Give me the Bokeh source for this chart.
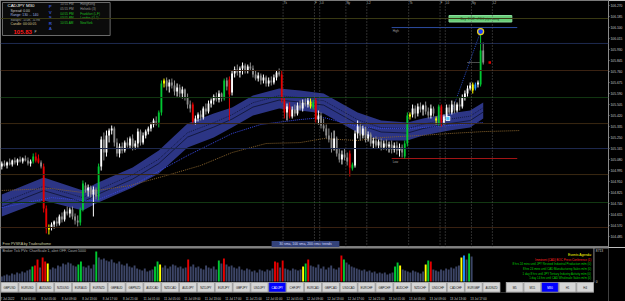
from bokeh.plotting import figure
from bokeh.models import Range1d, FixedTicker, NumeralTickFormatter, Label, Span
from bokeh.layouts import column
from bokeh.embed import file_html
from bokeh.resources import INLINE
from bokeh.core.properties import value

symbol = "CADJPY"
timeframe = "M30"
last_price = 105.830

opens = [105.026,105.049,105.034,105.057,105.042,105.073,105.057,105.080,105.065,105.088,105.073,105.049,105.065,105.103,105.088,105.057,105.026,104.702,104.539,104.555,
104.578,104.601,104.586,104.640,104.617,104.679,104.663,104.694,104.640,104.609,104.594,104.694,104.879,104.841,104.864,104.810,104.848,104.794,105.026,105.235,
105.134,105.266,105.304,105.320,105.212,105.127,105.181,105.150,105.212,105.188,105.243,105.181,105.204,105.297,105.212,105.266,105.297,105.320,105.351,105.374,
105.366,105.444,105.668,105.691,105.644,105.675,105.652,105.606,105.637,105.590,105.621,105.559,105.505,105.505,105.374,105.397,105.428,105.405,105.474,105.451,
105.513,105.536,105.567,105.544,105.590,105.552,105.691,105.699,105.598,105.745,105.776,105.753,105.784,105.807,105.768,105.799,105.784,105.737,105.706,105.729,
105.691,105.714,105.668,105.691,105.675,105.714,105.753,105.737,105.544,105.444,105.490,105.413,105.467,105.436,105.498,105.474,105.521,105.505,105.490,105.482,
105.536,105.389,105.420,105.343,105.320,105.266,105.235,105.165,105.243,105.127,105.080,105.119,105.096,105.127,105.011,105.034,105.281,105.335,105.266,105.320,
105.243,105.274,105.204,105.227,105.188,105.219,105.173,105.204,105.181,105.196,105.158,105.188,105.150,105.173,105.103,105.204,105.413,105.428,105.474,105.436,
105.490,105.467,105.498,105.451,105.420,105.474,105.382,105.359,105.490,105.366,105.413,105.482,105.444,105.505,105.459,105.505,105.490,105.559,105.590,105.629,
105.614,105.629,105.660,105.660,105.923]
highs = [105.065,105.073,105.065,105.088,105.080,105.096,105.088,105.103,105.096,105.111,105.096,105.080,105.127,105.134,105.119,105.073,105.049,104.725,104.578,104.594,
104.609,104.632,104.655,104.671,104.694,104.717,104.709,104.717,104.663,104.648,104.709,104.918,104.903,104.887,104.879,104.872,104.864,105.049,105.258,105.289,
105.304,105.320,105.343,105.335,105.243,105.204,105.212,105.227,105.250,105.258,105.274,105.227,105.320,105.312,105.289,105.312,105.335,105.366,105.397,105.413,
105.459,105.691,105.706,105.714,105.699,105.706,105.691,105.668,105.660,105.644,105.629,105.590,105.536,105.521,105.420,105.444,105.459,105.490,105.513,105.536,
105.552,105.583,105.598,105.614,105.598,105.706,105.714,105.722,105.768,105.799,105.814,105.799,105.830,105.822,105.814,105.830,105.807,105.768,105.753,105.745,
105.737,105.729,105.714,105.722,105.737,105.768,105.784,105.768,105.559,105.513,105.521,105.490,105.505,105.521,105.536,105.544,105.552,105.559,105.552,105.544,
105.559,105.459,105.444,105.397,105.351,105.320,105.289,105.304,105.258,105.165,105.150,105.165,105.134,105.150,105.057,105.304,105.382,105.366,105.343,105.335,
105.297,105.289,105.250,105.258,105.235,105.243,105.227,105.235,105.219,105.227,105.212,105.219,105.204,105.196,105.227,105.444,105.444,105.505,105.498,105.513,
105.521,105.505,105.528,105.482,105.505,105.490,105.413,105.505,105.505,105.428,105.505,105.505,105.536,105.528,105.521,105.559,105.583,105.614,105.652,105.675,
105.675,105.675,105.691,106.069,105.984]
lows = [105.003,105.026,105.011,105.034,105.026,105.042,105.034,105.057,105.049,105.065,105.034,105.026,105.049,105.057,105.049,105.011,104.671,104.509,104.501,104.532,
104.547,104.563,104.570,104.594,104.601,104.648,104.632,104.617,104.578,104.563,104.570,104.679,104.825,104.794,104.787,104.640,104.771,104.764,104.995,105.073,
105.103,105.212,105.274,105.181,105.103,105.096,105.127,105.134,105.173,105.165,105.150,105.158,105.173,105.188,105.196,105.243,105.274,105.297,105.328,105.343,
105.328,105.420,105.637,105.614,105.598,105.629,105.575,105.567,105.559,105.552,105.536,105.474,105.444,105.351,105.351,105.374,105.382,105.389,105.428,105.436,
105.482,105.505,105.528,105.521,105.528,105.536,105.614,105.382,105.575,105.714,105.729,105.714,105.737,105.745,105.745,105.768,105.714,105.691,105.683,105.660,
105.668,105.644,105.644,105.652,105.660,105.691,105.722,105.521,105.397,105.382,105.397,105.397,105.413,105.420,105.459,105.451,105.490,105.482,105.474,105.467,
105.366,105.351,105.320,105.297,105.243,105.212,105.134,105.150,105.103,105.057,105.042,105.073,105.034,104.949,104.995,105.018,105.243,105.227,105.243,105.212,
105.219,105.181,105.165,105.173,105.165,105.150,105.158,105.150,105.134,105.127,105.134,105.119,105.103,105.096,105.088,105.181,105.389,105.405,105.397,105.413,
105.444,105.420,105.428,105.397,105.397,105.413,105.351,105.343,105.335,105.351,105.382,105.428,105.428,105.436,105.444,105.459,105.474,105.536,105.567,105.614,
105.590,105.614,105.637,105.644,105.814]
closes = [105.049,105.034,105.057,105.042,105.073,105.057,105.080,105.065,105.088,105.073,105.049,105.065,105.103,105.073,105.057,105.026,104.702,104.547,104.555,104.578,
104.601,104.586,104.640,104.617,104.679,104.663,104.694,104.640,104.609,104.594,104.694,104.895,104.841,104.864,104.810,104.848,104.794,105.026,105.235,105.134,
105.266,105.304,105.320,105.212,105.127,105.181,105.150,105.212,105.188,105.243,105.181,105.204,105.297,105.212,105.266,105.297,105.320,105.351,105.382,105.366,
105.444,105.668,105.691,105.644,105.675,105.652,105.606,105.637,105.590,105.621,105.559,105.505,105.474,105.374,105.397,105.428,105.405,105.474,105.451,105.513,
105.536,105.567,105.544,105.590,105.552,105.691,105.644,105.583,105.745,105.776,105.753,105.784,105.807,105.768,105.799,105.784,105.737,105.706,105.729,105.691,
105.714,105.668,105.691,105.675,105.714,105.753,105.737,105.544,105.444,105.490,105.413,105.467,105.436,105.498,105.474,105.521,105.505,105.536,105.528,105.521,
105.389,105.420,105.343,105.320,105.266,105.235,105.165,105.243,105.127,105.080,105.119,105.096,105.065,105.018,105.042,105.281,105.335,105.266,105.320,105.243,
105.274,105.204,105.227,105.188,105.219,105.173,105.204,105.181,105.196,105.158,105.188,105.150,105.173,105.134,105.204,105.420,105.428,105.474,105.436,105.490,
105.467,105.498,105.451,105.420,105.474,105.436,105.397,105.490,105.366,105.413,105.482,105.444,105.505,105.459,105.505,105.490,105.559,105.590,105.629,105.652,
105.660,105.660,105.675,105.923,105.830]
volumes = [1280,1536,1792,1536,2048,1792,2304,2048,2560,2304,2816,3072,3840,4096,5632,3584,6144,5120,4608,3072,
3584,3328,4096,3840,4608,4352,4864,4608,4096,3840,4352,5120,3840,3584,4096,3328,4352,7680,6144,5632,
5888,5376,5120,5632,4864,4608,5120,4352,4096,4608,3840,3584,4096,3328,3072,2816,3328,2560,2816,3072,
3840,5120,4352,3584,4096,3328,3840,4352,4096,3584,3840,3328,3584,5632,3840,4352,3584,3840,3328,3072,
4096,3584,3328,3840,3072,5376,4608,5888,4352,3840,4096,3584,3328,3840,3072,2816,3328,3072,2560,2816,
2304,3072,2816,2560,3072,2816,3328,5120,4864,3584,5376,3328,3072,2816,3328,3072,2816,3072,3840,4608,
5632,4096,3840,3584,4352,3328,3840,3072,3584,4096,3328,3072,3584,6656,5632,4864,4352,3840,3584,3328,
3072,2816,3072,2560,2816,2304,2560,2048,2304,2048,2304,1792,2048,2304,3840,4864,4096,3072,2816,2560,
2304,2816,2560,2304,2048,2560,4352,5376,5120,3072,2816,2560,3072,2816,3328,3072,3584,3328,3840,4096,
6144,6656,5632,7168,6400]
vol_class = list("nnnnnnnnnnnn" "g" "rrnrry" "nnnnnnnnnnn" "gg" "nnnnn" "g"
                 "nnnnnnnnnnnnnnnnnnnnnn" "ggy" "nnnnnnnnnn" "r" "nnnnnnnnnnn" "gnr"
                 "nnnnnnnnnnnnnnnnnnn" "rrnr" "nnnnnnn" "ygr" "nnnnnnnnnnnn" "rg"
                 "nnnnnnnnnnnnnnnnnnn" "ggy" "nnnnnnnnn" "ygr" "nnnnnnnnnnn" "ybngn")

price_ticks = [106.270, 106.185, 106.100, 106.015, 105.930, 105.845, 105.760, 105.675, 105.590, 105.505, 105.420,
               105.335, 105.250, 105.165, 105.080, 104.995, 104.910, 104.825, 104.740, 104.655, 104.570, 104.485]
pivot_levels = [106.170, 105.977, 105.768, 105.559, 105.358, 105.165, 104.964, 104.748, 104.555]

band_x = [0, 16, 31, 36, 50, 60, 71, 81, 88, 96, 106, 114, 123, 136, 145, 155, 161, 171, 179, 184]
band_hi = [104.810, 104.941, 104.841, 104.895, 105.018, 105.150, 105.358, 105.436, 105.482, 105.575,
           105.629, 105.613, 105.590, 105.443, 105.382, 105.366, 105.397, 105.436, 105.459, 105.521]
band_lo = [104.640, 104.763, 104.686, 104.740, 104.864, 104.972, 105.173, 105.250, 105.327, 105.420,
           105.474, 105.459, 105.436, 105.289, 105.227, 105.227, 105.266, 105.304, 105.327, 105.397]
sma100_x = [0, 19, 31, 36, 50, 71, 88, 99, 114, 123, 136, 145, 156, 171, 184]
sma100 = [104.709, 104.786, 104.763, 104.763, 104.879, 105.111, 105.281, 105.351, 105.389, 105.405,
          105.335, 105.320, 105.320, 105.343, 105.366]
ema200_x = [0, 19, 31, 49, 63, 76, 88, 101, 114, 123, 136, 145, 160, 171, 184, 198]
ema200 = [104.841, 104.856, 104.825, 104.879, 104.957, 105.034, 105.134, 105.204, 105.211, 105.242,
          105.227, 105.250, 105.266, 105.281, 105.296, 105.304]

session_bars = [108, 120, 122, 132, 140, 156, 168, 170, 180, 188]
session_names = ["Tk", "F", "L0", "Ny", "L2", "Tk", "F", "L0", "Ny", "L2"]
day_low, day_high = 105.088, 106.100
low_line_bars = [149, 197]
target_bar, target_price = 183, 106.069
signal_bar, signal_price = 171, 105.397

time_bars = [0, 8, 16, 24, 32, 40, 48, 56, 64, 72, 80, 88, 96, 104, 112, 120, 128, 136, 144, 152, 160, 168, 176, 184]
time_labels = ["7 Jul 2022", "8 Jul 01:00", "8 Jul 05:00", "8 Jul 09:00", "8 Jul 13:00", "8 Jul 17:00", "8 Jul 21:00",
               "11 Jul 01:00", "11 Jul 05:00", "11 Jul 09:00", "11 Jul 13:00", "11 Jul 17:00", "11 Jul 21:00",
               "12 Jul 01:00", "12 Jul 05:00", "12 Jul 09:00", "12 Jul 13:00", "12 Jul 17:00", "12 Jul 21:00",
               "13 Jul 01:00", "13 Jul 05:00", "13 Jul 09:00", "13 Jul 13:00", "13 Jul 17:00"]
pairs = ["GBPUSD", "EURUSD", "AUDUSD", "NZDUSD", "EURAUD", "EURNZD", "GBPAUD", "GBPNZD", "AUDCAD", "NZDCAD",
         "AUDJPY", "NZDJPY", "EURJPY", "GBPJPY", "USDJPY", "CADJPY", "CHFJPY", "EURCAD", "GBPCAD", "USDCAD",
         "EURCHF", "GBPCHF", "AUDCHF", "NZDCHF", "USDCHF", "CADCHF", "EURGBP", "AUDNZD"]
timeframes = ["M5", "M15", "M30", "H1", "H4"]
events = ["Events Agenda:",
          "Imminent (CAD) BOC Press Conference  (1)",
          "8 hrs 24 mins until JPY Revised Industrial Production m/m  (0)",
          "8 hrs 24 mins until CAD Manufacturing Sales m/m  (0)",
          "1 day 8 hrs until JPY Tertiary Industry Activity m/m  (0)",
          "1 day 14 hrs until CAD Wholesale Sales m/m  (0)"]
event_colors = ["#ffff00", "#ff2020", "#00d000", "#00d000", "#00d000", "#00d000"]
clocks = [("10:55 PM", "HongKong", "#9a9a9a"), ("05:55 PM", "Helsinki (3)", "#9a9a9a"),
          ("04:55 PM", "Frankfurt (L,F)", "#20c020"), ("03:55 PM", "London (O-1)", "#20c020"),
          ("10:55 AM", "NewYork", "#20c020")]
info_lines = [("Spread: 0.00", "#c8c8c8"), ("Range: 130 ... 140", "#a0b4e0"),
              ("Swaps: -0.08, -0.98", "#a0a0a0"), ("Candle: 00:00:05", "#d8c890")]

# ---------------------------------------------------------------------------
FONT = value("Liberation Sans")
BAR_PX = 2.625
FRAME_W = 610
MAIN_H = 247
SUB_H = 54
PX_PER_PRICE = 1 / 0.0077273
y_top = 106.309
y_bot = y_top - MAIN_H / PX_PER_PRICE

n = len(closes)
idx = list(range(n))
special = {"g": "#00c832", "r": "#e60000", "y": "#ffff00", "b": "#1e90ff"}
cndl_col = []
hist_col = []
for o, c, k in zip(opens, closes, vol_class):
    if k == "n":
        cndl_col.append("#ffffff" if c >= o else "#8c8c8c")
        hist_col.append("#3c4566")
    else:
        cndl_col.append(special[k])
        hist_col.append(special[k])
tops = [max(o, c) for o, c in zip(opens, closes)]
bots = [min(o, c) for o, c in zip(opens, closes)]

p = figure(width=625, height=MAIN_H, output_backend="svg", toolbar_location=None,
           x_range=Range1d(-0.5, -0.5 + FRAME_W / BAR_PX), y_range=Range1d(y_bot, y_top),
           x_axis_location=None, y_axis_location="right",
           min_border_left=0, min_border_right=15, min_border_top=0, min_border_bottom=0,
           background_fill_color="#000000", border_fill_color="#000000")
p.grid.visible = False
p.outline_line_color = "#7a7a7a"
p.extra_x_ranges = {"px": Range1d(0, FRAME_W)}
p.extra_y_ranges = {"px": Range1d(MAIN_H, 0)}

ax = p.yaxis[0]
ax.ticker = FixedTicker(ticks=price_ticks)
ax.formatter = NumeralTickFormatter(format="0.000")
ax.major_label_text_font_size = "3.3px"
ax.major_label_text_font = "Liberation Sans"
ax.major_label_text_color = "#c8c8c8"
ax.axis_line_color = "#8a8a8a"
ax.major_tick_line_color = "#8a8a8a"
ax.major_tick_out = 1
ax.major_tick_in = 0
ax.minor_tick_line_color = None
ax.major_label_standoff = 1

pivot_cols = ["#3a3a14", "#1e2a50", "#3a2212", "#123812", "#3a2812", "#1e2a50", "#3a2812", "#123812", "#3a2212"]
for lv, col in zip(pivot_levels, pivot_cols):
    p.add_layout(Span(location=lv, dimension="width", line_color=col, line_width=1))
for b in session_bars:
    p.add_layout(Span(location=b - 0.5, dimension="height", line_color="#5a5a5a", line_width=1, line_dash="1 2"))

# MA ribbon
p.varea(x=band_x, y1=band_lo, y2=band_hi, fill_color="#2c3585")
mid = [(a + b) / 2 for a, b in zip(band_lo, band_hi)]
p.line(band_x, [m + 0.022 for m in mid], line_color="#141a40", line_width=1, line_dash="1 1")
p.line(band_x, [m - 0.012 for m in mid], line_color="#141a40", line_width=1)
p.line(sma100_x, sma100, line_color="#3848e0", line_width=1, line_dash="1 1")
p.line(ema200_x, ema200, line_color="#86622c", line_width=1, line_dash="1 1")

# high / low lines
p.segment(x0=[low_line_bars[0]], y0=[day_low], x1=[low_line_bars[1]], y1=[day_low], line_color="#a01414", line_width=1)
p.segment(x0=[low_line_bars[0]], y0=[day_high], x1=[low_line_bars[1]], y1=[day_high], line_color="#2c4ca0", line_width=1)
p.text(x=[low_line_bars[0]], y=[day_low], text=["Low"], text_font=FONT, text_font_size="3px",
       text_color="#a0a0a0", text_baseline="top", x_offset=1, y_offset=1)
p.text(x=[low_line_bars[0]], y=[day_high], text=["High"], text_font=FONT, text_font_size="3px",
       text_color="#a0a0a0", text_baseline="top", x_offset=1, y_offset=1)
p.line([signal_bar, target_bar], [signal_price, target_price], line_color="#2848b8", line_width=1, line_dash="1 1")
p.segment(x0=[178], y0=[last_price], x1=[183], y1=[last_price], line_color="#9a9a9a", line_dash="1 1")

# candles
p.segment(x0=idx, y0=lows, x1=idx, y1=highs, line_color=cndl_col, line_width=1)
p.vbar(x=idx, width=0.7, top=tops, bottom=bots, fill_color=cndl_col, line_color=None)

p.scatter(x=[target_bar], y=[target_price], size=6, fill_color="#1a3cff", line_color="#e8d020", line_width=1.3)
p.scatter(x=[signal_bar - 0.5], y=[signal_price], marker="square", size=4, fill_color="#50c8ff", line_color="#ffffff", line_width=0.8)
p.scatter(x=[n + 1.5], y=[last_price], marker="square", size=2.5, fill_color="#e00000", line_color=None)

# target label
p.quad(left=[450], right=[513], top=[15], bottom=[21.5], x_range_name="px", y_range_name="px",
       fill_color="#66cc77", line_color="#88dd99")
p.text(x=[481], y=[18.3], text=["Buy: 3 EZ, +96.0 pips away"], x_range_name="px", y_range_name="px",
       text_font=FONT, text_font_size="3.2px", text_color="#14401c", text_align="center", text_baseline="middle")

# session labels
p.text(x=[b - 0.3 for b in session_bars], y=[106.294] * len(session_bars), text=session_names, text_font=FONT,
       text_font_size="3px", text_color="#b4b4b4", text_baseline="middle")

# info panel
p.quad(left=[2], right=[110], top=[2], bottom=[35], x_range_name="px", y_range_name="px",
       fill_color="#0b0b0b", line_color="#6a6a6a", line_width=1)
p.text(x=[7], y=[5], text=[symbol + "   " + timeframe], x_range_name="px", y_range_name="px",
       text_font=FONT, text_font_size="4.4px", text_color="#ffffff", text_baseline="middle")
for k, (s, col) in enumerate(info_lines):
    p.text(x=[10], y=[10 + 4.6 * k], text=[s], x_range_name="px", y_range_name="px",
           text_font=FONT, text_font_size="3.4px", text_color=col, text_baseline="middle")
p.text(x=[13], y=[31], text=["%.2f" % last_price], x_range_name="px", y_range_name="px",
       text_font=FONT, text_font_size="6px", text_font_style="bold", text_color="#ff1a1a", text_baseline="middle")
p.text(x=[34], y=[31.5], text=["P"], x_range_name="px", y_range_name="px",
       text_font=FONT, text_font_size="3px", text_color="#c8c8c8", text_baseline="middle")
for k, ch in enumerate("PVSRA"):
    p.text(x=[50], y=[6 + 5.6 * k], text=[ch], x_range_name="px", y_range_name="px", text_font=FONT,
           text_font_size="4.4px", text_font_style="bold", text_color="#3454d0", text_align="center", text_baseline="middle")
for k, (t, city, col) in enumerate(clocks):
    p.text(x=[60], y=[3.6 + 4.6 * k], text=[t], x_range_name="px", y_range_name="px", text_font=FONT,
           text_font_size="3.1px", text_color=col, text_baseline="middle")
    p.text(x=[80], y=[3.6 + 4.6 * k], text=[city], x_range_name="px", y_range_name="px", text_font=FONT,
           text_font_size="3.1px", text_color=col, text_baseline="middle")

p.text(x=[2], y=[243.5], text=["Free PVSRA by Traderathome"], x_range_name="px", y_range_name="px",
       text_font=FONT, text_font_size="3.6px", text_color="#d0d0a8", text_baseline="middle")
p.quad(left=[272], right=[340], top=[240.5], bottom=[247], x_range_name="px", y_range_name="px",
       fill_color="#33427a", line_color=None)
p.text(x=[306], y=[243.8], text=["30 sma, 100 sma, 200 ema: trends"], x_range_name="px", y_range_name="px",
       text_font=FONT, text_font_size="3.4px", text_color="#d8dcff", text_align="center", text_baseline="middle")

p.add_layout(Label(x=611, y=last_price, x_units="screen", y_units="data", text="%.3f" % last_price,
                   text_font="Liberation Sans", text_font_size="3.3px", text_color="#000000",
                   text_baseline="middle", background_fill_color="#ffffff"))

# ---------------------------------------------------------------------------
VPX = 256.3
BASE = 34
p2 = figure(width=625, height=SUB_H, output_backend="svg", toolbar_location=None,
            x_range=Range1d(-0.5, -0.5 + 625 / BAR_PX), y_range=Range1d(-(SUB_H - BASE) * VPX, BASE * VPX),
            x_axis_location=None, y_axis_location=None,
            min_border_left=0, min_border_right=0, min_border_top=0, min_border_bottom=0,
            background_fill_color="#000000", border_fill_color="#000000")
p2.grid.visible = False
p2.outline_line_color = None
p2.extra_x_ranges = {"px": Range1d(0, 625)}
p2.extra_y_ranges = {"px": Range1d(SUB_H, 0)}

p2.vbar(x=idx, width=0.75, top=volumes, bottom=0, fill_color=hist_col, line_color=None)
p2.segment(x0=[FRAME_W], y0=[0], x1=[FRAME_W], y1=[BASE + 1], x_range_name="px", y_range_name="px",
           line_color="#8a8a8a", line_width=1)
p2.segment(x0=[0], y0=[0.5], x1=[625], y1=[0.5], x_range_name="px", y_range_name="px", line_color="#8a8a8a")
p2.text(x=[612, 612], y=[3, BASE], text=["8713", "0"], x_range_name="px", y_range_name="px",
        text_font=FONT, text_font_size="3.3px", text_color="#c8c8c8", text_baseline="middle")
p2.text(x=[2], y=[3.8], text=["Broker Tick PVs: ChartScale 1, alert OFF, Count 5000"], x_range_name="px",
        y_range_name="px", text_font=FONT, text_font_size="3.5px", text_color="#b0b0b0", text_baseline="middle")
for k, (s, col) in enumerate(zip(events, event_colors)):
    p2.text(x=[608], y=[7.2 + 4.65 * k], text=[s], x_range_name="px", y_range_name="px", text_font=FONT,
            text_font_size="3.4px" if k == 0 else "2.9px", text_color=col, text_align="right", text_baseline="middle")

# buttons
BTN_TOP, BTN_BOT = 35, 44.5
p2.quad(left=[0], right=[FRAME_W], top=[BTN_TOP - 0.5], bottom=[BTN_BOT + 0.5], x_range_name="px", y_range_name="px",
        fill_color="#c4c4c4", line_color=None)
p2.quad(left=[513.5], right=[519.5], top=[BTN_TOP - 0.5], bottom=[BTN_BOT + 0.5], x_range_name="px", y_range_name="px",
        fill_color="#000000", line_color=None)
bl = [0.5 + 18.35 * k for k in range(len(pairs))]
bfill = ["#0000ff" if s == symbol else "#d6d6d6" for s in pairs]
btxt = ["#ffffff" if s == symbol else "#202020" for s in pairs]
p2.quad(left=bl, right=[b + 17.6 for b in bl], top=[BTN_TOP] * len(pairs), bottom=[BTN_BOT] * len(pairs),
        x_range_name="px", y_range_name="px", fill_color=bfill, line_color="#8a8a8a", line_width=0.6)
p2.text(x=[b + 8.8 for b in bl], y=[(BTN_TOP + BTN_BOT) / 2] * len(pairs), text=pairs, x_range_name="px",
        y_range_name="px", text_font=FONT, text_font_size="2.9px", text_color=btxt, text_align="center", text_baseline="middle")
tl = [520 + 18.1 * k for k in range(len(timeframes))]
tfill = ["#0000ff" if s == timeframe else "#d6d6d6" for s in timeframes]
ttxt = ["#ffffff" if s == timeframe else "#202020" for s in timeframes]
p2.quad(left=tl, right=[t + 17.2 for t in tl], top=[BTN_TOP] * len(tl), bottom=[BTN_BOT] * len(tl),
        x_range_name="px", y_range_name="px", fill_color=tfill, line_color="#8a8a8a", line_width=0.6)
p2.text(x=[t + 8.6 for t in tl], y=[(BTN_TOP + BTN_BOT) / 2] * len(tl), text=timeframes, x_range_name="px",
        y_range_name="px", text_font=FONT, text_font_size="2.9px", text_color=ttxt, text_align="center", text_baseline="middle")

# time axis labels
p2.text(x=[b - 0.5 for b in time_bars], y=[51] * len(time_bars), text=time_labels, y_range_name="px",
        text_font=FONT, text_font_size="3px", text_color="#c8c8c8", text_baseline="middle")

layout = column(p, p2, spacing=0)
open("out.html", "w").write(file_html(layout, INLINE))
